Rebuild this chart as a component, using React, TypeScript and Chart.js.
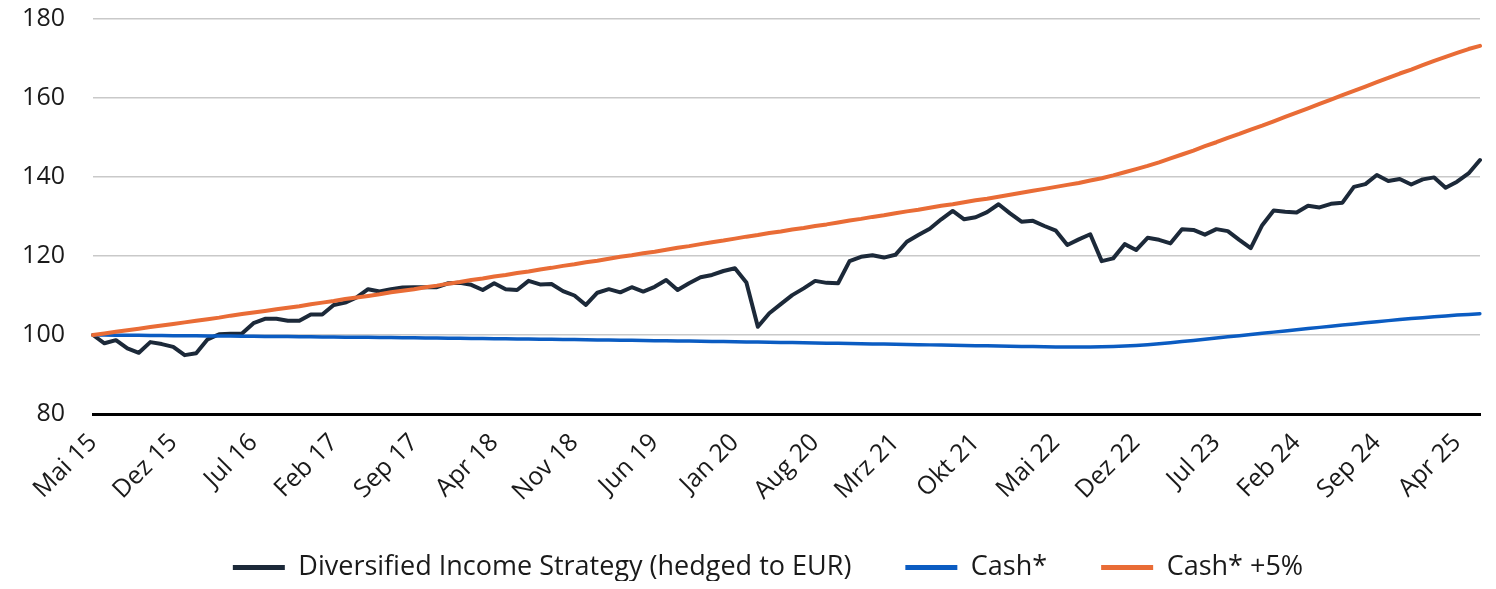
import React, { useEffect, useRef } from "react";
import { Chart, registerables } from "chart.js";

Chart.register(...registerables);

// Monthly categories, Mai 15 .. Jun 25
const CATEGORIES: string[] = [
  "Mai 15", "Jun 15", "Jul 15", "Aug 15", "Sep 15", "Okt 15", "Nov 15", "Dez 15",
  "Jan 16", "Feb 16", "Mrz 16", "Apr 16", "Mai 16", "Jun 16", "Jul 16", "Aug 16", "Sep 16", "Okt 16", "Nov 16", "Dez 16",
  "Jan 17", "Feb 17", "Mrz 17", "Apr 17", "Mai 17", "Jun 17", "Jul 17", "Aug 17", "Sep 17", "Okt 17", "Nov 17", "Dez 17",
  "Jan 18", "Feb 18", "Mrz 18", "Apr 18", "Mai 18", "Jun 18", "Jul 18", "Aug 18", "Sep 18", "Okt 18", "Nov 18", "Dez 18",
  "Jan 19", "Feb 19", "Mrz 19", "Apr 19", "Mai 19", "Jun 19", "Jul 19", "Aug 19", "Sep 19", "Okt 19", "Nov 19", "Dez 19",
  "Jan 20", "Feb 20", "Mrz 20", "Apr 20", "Mai 20", "Jun 20", "Jul 20", "Aug 20", "Sep 20", "Okt 20", "Nov 20", "Dez 20",
  "Jan 21", "Feb 21", "Mrz 21", "Apr 21", "Mai 21", "Jun 21", "Jul 21", "Aug 21", "Sep 21", "Okt 21", "Nov 21", "Dez 21",
  "Jan 22", "Feb 22", "Mrz 22", "Apr 22", "Mai 22", "Jun 22", "Jul 22", "Aug 22", "Sep 22", "Okt 22", "Nov 22", "Dez 22",
  "Jan 23", "Feb 23", "Mrz 23", "Apr 23", "Mai 23", "Jun 23", "Jul 23", "Aug 23", "Sep 23", "Okt 23", "Nov 23", "Dez 23",
  "Jan 24", "Feb 24", "Mrz 24", "Apr 24", "Mai 24", "Jun 24", "Jul 24", "Aug 24", "Sep 24", "Okt 24", "Nov 24", "Dez 24",
  "Jan 25", "Feb 25", "Mrz 25", "Apr 25", "Mai 25", "Jun 25",
];

const SERIES_NAMES = [
  "Diversified Income Strategy (hedged to EUR)",
  "Cash*",
  "Cash* +5%",
];

const STRATEGY: number[] = [
  100.0, 97.9, 98.7, 96.6, 95.5, 98.2, 97.7, 97.0, 94.9, 95.4, 98.9, 100.2,
  100.3, 100.4, 103.0, 104.1, 104.1, 103.6, 103.6, 105.2, 105.2, 107.6, 108.2, 109.5,
  111.6, 111.0, 111.6, 112.0, 112.1, 112.1, 112.1, 113.1, 113.2, 112.7, 111.4, 113.1,
  111.6, 111.4, 113.7, 112.8, 112.9, 111.1, 110.0, 107.6, 110.7, 111.6, 110.8, 112.1,
  111.0, 112.2, 113.9, 111.4, 113.1, 114.6, 115.2, 116.2, 116.9, 113.3, 102.1, 105.5,
  107.8, 110.1, 111.8, 113.7, 113.2, 113.1, 118.7, 119.8, 120.2, 119.6, 120.3, 123.6,
  125.3, 126.9, 129.3, 131.4, 129.3, 129.8, 131.1, 133.1, 130.8, 128.7, 128.9, 127.6,
  126.4, 122.8, 124.2, 125.5, 118.7, 119.4, 123.0, 121.5, 124.6, 124.1, 123.2, 126.8,
  126.6, 125.4, 126.8, 126.3, 124.1, 122.0, 127.8, 131.5, 131.2, 131.0, 132.7, 132.3,
  133.2, 133.5, 137.5, 138.2, 140.5, 139.0, 139.5, 138.1, 139.4, 139.9, 137.3, 138.8,
  140.9, 144.3,
];

const CASH: number[] = [
  100.0, 99.98, 99.96, 99.93, 99.91, 99.89, 99.86, 99.84, 99.82, 99.79, 99.77, 99.75,
  99.72, 99.7, 99.67, 99.65, 99.62, 99.6, 99.57, 99.54, 99.52, 99.49, 99.46, 99.43,
  99.41, 99.38, 99.35, 99.32, 99.29, 99.26, 99.23, 99.2, 99.17, 99.14, 99.11, 99.08,
  99.05, 99.01, 98.98, 98.94, 98.91, 98.87, 98.84, 98.8, 98.76, 98.73, 98.69, 98.65,
  98.61, 98.57, 98.53, 98.49, 98.45, 98.41, 98.37, 98.33, 98.29, 98.25, 98.21, 98.17,
  98.13, 98.08, 98.03, 97.98, 97.94, 97.89, 97.84, 97.79, 97.74, 97.7, 97.65, 97.6,
  97.55, 97.5, 97.45, 97.4, 97.35, 97.3, 97.25, 97.2, 97.15, 97.1, 97.06, 97.02,
  96.98, 96.96, 96.95, 96.95, 97.0, 97.08, 97.2, 97.36, 97.56, 97.8, 98.06, 98.34,
  98.63, 98.93, 99.23, 99.53, 99.83, 100.13, 100.43, 100.73, 101.03, 101.33, 101.63, 101.93,
  102.23, 102.52, 102.81, 103.09, 103.37, 103.64, 103.9, 104.15, 104.39, 104.62, 104.84, 105.04,
  105.22, 105.4,
];

const CASH_PLUS5: number[] = [
  100.0, 100.4, 100.8, 101.2, 101.6, 102.0, 102.4, 102.8, 103.2, 103.6, 104.0, 104.4,
  104.9, 105.3, 105.7, 106.1, 106.5, 106.9, 107.3, 107.8, 108.2, 108.6, 109.1, 109.5,
  109.9, 110.3, 110.8, 111.2, 111.6, 112.1, 112.5, 113.0, 113.4, 113.9, 114.3, 114.8,
  115.2, 115.7, 116.1, 116.6, 117.0, 117.5, 117.9, 118.4, 118.8, 119.3, 119.8, 120.2,
  120.7, 121.1, 121.6, 122.1, 122.5, 123.0, 123.5, 123.9, 124.4, 124.9, 125.3, 125.8,
  126.2, 126.7, 127.1, 127.6, 128.0, 128.5, 129.0, 129.4, 129.9, 130.3, 130.8, 131.3,
  131.7, 132.2, 132.7, 133.1, 133.6, 134.1, 134.5, 135.0, 135.5, 136.0, 136.5, 137.0,
  137.5, 138.0, 138.5, 139.1, 139.7, 140.4, 141.2, 142.0, 142.8, 143.7, 144.7, 145.7,
  146.7, 147.8, 148.8, 149.9, 150.9, 152.0, 153.0, 154.1, 155.2, 156.3, 157.4, 158.5,
  159.6, 160.7, 161.8, 162.9, 164.0, 165.1, 166.2, 167.2, 168.3, 169.4, 170.4, 171.4,
  172.4, 173.2,
];

const Y_MIN = 80;
const Y_MAX = 180;
const Y_STEP = 20;
const LABEL_EVERY = 7;

const COLORS = ["#1c2939", "#0b5cc2", "#e96c36"];
const FONT = "'Open Sans', 'Noto Sans', sans-serif";
const TEXT = "#1a1a1a";

const CANVAS_W = 1480;
const CANVAS_H = 583;
const PLOT_BOTTOM = 406;

const adjustPlugin = {
  id: "adjustBoxes",
  afterLayout(chart: any) {
    const lg = chart.legend;
    if (lg) {
      lg.left += 24;
      lg.right += 24;
    }
    const x = chart.scales.x;
    if (x) x.bottom += 20;
  },
};

export default function App() {
  const ref = useRef<HTMLCanvasElement | null>(null);

  useEffect(() => {
    if (!ref.current) return;
    const series = [STRATEGY, CASH, CASH_PLUS5];
    const widths = [4, 3.5, 4];
    const chart = new Chart(ref.current, {
      type: "line",
      data: {
        labels: CATEGORIES,
        datasets: series.map((d, i) => ({
          label: SERIES_NAMES[i],
          data: d,
          borderColor: COLORS[i],
          backgroundColor: COLORS[i],
          borderWidth: widths[i],
          pointRadius: 0,
          pointHoverRadius: 0,
          tension: 0,
          fill: false,
          borderJoinStyle: "round" as const,
          borderCapStyle: "round" as const,
          order: 3 - i,
        })),
      },
      plugins: [adjustPlugin],
      options: {
        animation: false,
        responsive: false,
        devicePixelRatio: 1,
        layout: { padding: { left: 0, right: 8, top: 11, bottom: 0 } },
        plugins: {
          tooltip: { enabled: false },
          legend: {
            display: true,
            position: "bottom",
            labels: {
              boxWidth: 52,
              boxHeight: 5,
              padding: 54,
              color: TEXT,
              font: { family: FONT, size: 27 },
              sort: (a: any, b: any) => a.datasetIndex - b.datasetIndex,
              generateLabels: (c: any) =>
                Chart.defaults.plugins.legend.labels
                  .generateLabels(c)
                  .map((l: any) => ({ ...l, lineWidth: 0, fillStyle: l.strokeStyle })),
            },
          },
        },
        scales: {
          x: {
            grid: { display: false, drawTicks: false },
            border: { display: true, color: "#000000", width: 3 },
            ticks: {
              autoSkip: false,
              maxRotation: 45,
              minRotation: 45,
              padding: 14,
              color: TEXT,
              font: { family: FONT, size: 25 },
              callback: (_v: any, idx: number) =>
                idx % LABEL_EVERY === 0 ? CATEGORIES[idx] : null,
            },
            afterFit: (s: any) => {
              const lh = s.chart.legend ? s.chart.legend.height : 91;
              s.height = CANVAS_H - lh - PLOT_BOTTOM;
              s.paddingLeft = 0;
              s.paddingRight = 0;
            },
          },
          y: {
            min: Y_MIN,
            max: Y_MAX,
            ticks: {
              stepSize: Y_STEP,
              padding: 28,
              color: TEXT,
              font: { family: FONT, size: 25 },
            },
            grid: {
              drawTicks: false,
              lineWidth: 1.5,
              color: (ctx: any) =>
                ctx.tick && ctx.tick.value === Y_MIN ? "rgba(0,0,0,0)" : "#c9c9c9",
            },
            border: { display: false },
            afterFit: (s: any) => {
              s.width = 85;
              s.paddingTop = 0;
              s.paddingBottom = 0;
            },
          },
        },
      },
    });
    return () => chart.destroy();
  }, []);

  return (
    <div
      style={{
        width: CANVAS_W,
        height: 581,
        marginBottom: -8,
        overflow: "hidden",
        position: "relative",
      }}
    >
      <canvas
        ref={ref}
        width={CANVAS_W}
        height={CANVAS_H}
        style={{ display: "block", width: CANVAS_W, height: CANVAS_H }}
      />
    </div>
  );
}
